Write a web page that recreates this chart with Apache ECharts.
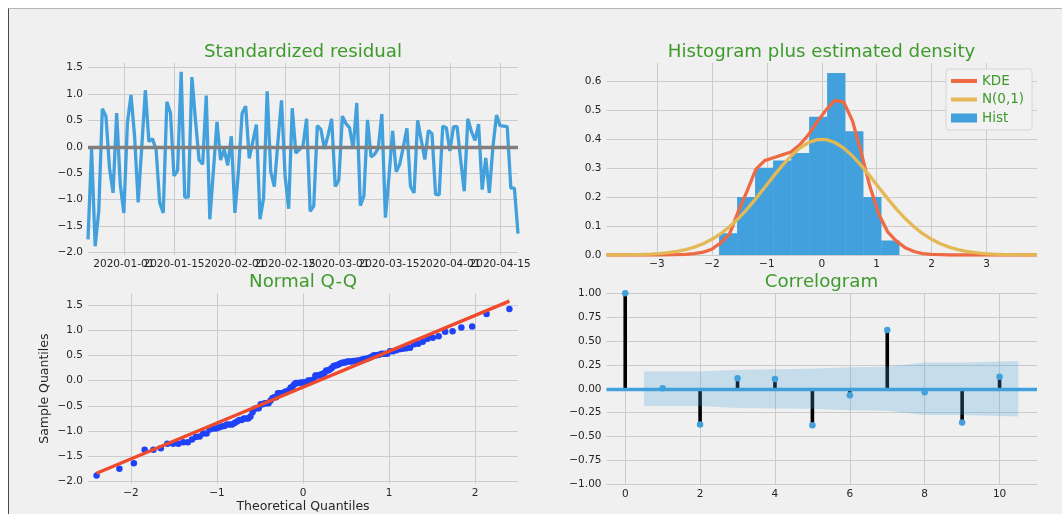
<!DOCTYPE html>
<html><head><meta charset="utf-8">
<script src="https://cdn.jsdelivr.net/npm/echarts@6.0.0/dist/echarts.min.js"></script>
<style>
html,body{margin:0;padding:0;background:#ffffff;width:1062px;height:514px;overflow:hidden}
#fig{position:absolute;left:8px;top:8px;right:0;bottom:0;background:#f0f0f0;border-left:1px solid #4a4a4a;border-top:1px solid #b4b4b4}
#chart{position:absolute;left:0;top:0;width:1062px;height:514px}
</style></head><body><div id="fig"></div><div id="chart"></div>
<script>
// ---------------- data ----------------
const startDate = '2019-12-22';
const dateTickLabelsA = ['2020-01-01','2020-02-01','2020-03-01','2020-04-01'];
const dateTickLabelsB = ['2020-01-15','2020-02-15','2020-03-15','2020-04-15'];
const resid = [
 -1.75,-0.04,-1.88,-1.22,0.72,0.58,-0.40,-0.87,0.64,-0.71,
 -1.25,0.45,0.98,0.20,-1.05,0.00,1.07,0.10,0.15,-0.05,
 -1.05,-1.25,0.85,0.65,-0.55,-0.45,1.42,-0.95,-0.95,1.32,
 0.50,-0.25,-0.33,0.97,-1.37,-0.45,0.47,-0.25,-0.05,-0.35,
 0.20,-1.25,-0.45,0.63,0.77,-0.22,0.10,0.42,-1.37,-0.97,
 1.05,-0.47,-0.75,0.10,0.88,-0.55,-1.17,0.73,-0.12,-0.05,
 0.02,0.53,-1.22,-1.12,0.40,0.33,-0.04,0.22,0.53,-0.75,
 -0.63,0.58,0.44,0.36,-0.04,0.83,-1.11,-0.93,0.51,-0.19,
 -0.14,-0.03,0.62,-1.34,-0.56,0.30,-0.47,-0.33,0.00,0.35,
 -0.75,-0.87,0.50,0.13,-0.24,0.31,0.25,-0.90,-0.91,0.39,
 0.36,-0.08,0.38,0.38,-0.25,-0.84,0.53,0.29,0.12,0.43,
 -0.81,-0.21,-0.87,0.00,0.60,0.40,0.39,0.38,-0.78,-0.78,
 -1.64
];
const histStart = -1.87, histBinWidth = 0.328;
const histDensity = [0.075,0.200,0.301,0.326,0.351,0.476,0.627,0.426,0.200,0.050];
const kdeStart = -3.92, kdeStep = 0.16;
const kdeValues = [
 0,0,0,0,0,0,0,0.0005,0.001,0.002,
 0.005,0.010,0.020,0.042,0.072,0.150,0.220,0.295,0.325,0.335,
 0.345,0.355,0.380,0.415,0.460,0.500,0.533,0.527,0.462,0.352,
 0.234,0.140,0.080,0.048,0.025,0.012,0.005,0.002,0.001,0,
 0,0,0,0,0,0,0,0,0,0
];
const acfLags = [0,1,2,3,4,5,6,7,8,9,10];
const acfValues = [1.0,0.005,-0.375,0.11,0.103,-0.382,-0.068,0.616,-0.037,-0.354,0.127];
const bandX = [0.5,2,3,4,5,6,7,8,9,10.5];
const bandHalfWidth = [0.18,0.18,0.2,0.205,0.21,0.225,0.23,0.275,0.275,0.29];

// ---------------- helpers ----------------
function addDays(s, k){ const d=new Date(s+'T00:00:00Z'); d.setUTCDate(d.getUTCDate()+k); return d.toISOString().slice(0,10); }
const dates = resid.map((_,i)=>addDays(startDate,i));
function mfmt(v,d){ const s=Math.abs(v).toFixed(d); return (v < -1e-9 ? '\u2212' : '') + s; }
function normInv(p){
 const a=[-3.969683028665376e+01,2.209460984245205e+02,-2.759285104469687e+02,1.383577518672690e+02,-3.066479806614716e+01,2.506628277459239e+00];
 const b=[-5.447609879822406e+01,1.615858368580409e+02,-1.556989798598866e+02,6.680131188771972e+01,-1.328068155288572e+01];
 const c=[-7.784894002430293e-03,-3.223964580411365e-01,-2.400758277161838e+00,-2.549732539343734e+00,4.374664141464968e+00,2.938163982698783e+00];
 const d=[7.784695709041462e-03,3.224671290700398e-01,2.445134137142996e+00,3.754408661907416e+00];
 const pl=0.02425, ph=1-pl; let q,r;
 if(p<pl){q=Math.sqrt(-2*Math.log(p));return (((((c[0]*q+c[1])*q+c[2])*q+c[3])*q+c[4])*q+c[5])/((((d[0]*q+d[1])*q+d[2])*q+d[3])*q+1);}
 if(p<=ph){q=p-0.5;r=q*q;return (((((a[0]*r+a[1])*r+a[2])*r+a[3])*r+a[4])*r+a[5])*q/(((((b[0]*r+b[1])*r+b[2])*r+b[3])*r+b[4])*r+1);}
 q=Math.sqrt(-2*Math.log(1-p));return -(((((c[0]*q+c[1])*q+c[2])*q+c[3])*q+c[4])*q+c[5])/((((d[0]*q+d[1])*q+d[2])*q+d[3])*q+1);
}
// Q-Q (sorted residuals vs normal quantiles), standardized reference line
const n = resid.length;
const sorted = resid.slice().sort((x,y)=>x-y);
const theo = sorted.map((_,i)=>normInv((i+1)/(n+1)));
const mean = sorted.reduce((s,v)=>s+v,0)/n;
const std = Math.sqrt(sorted.reduce((s,v)=>s+(v-mean)*(v-mean),0)/n);
const qqPoints = sorted.map((v,i)=>[theo[i], v]);
const qqLine = [[theo[0], mean+std*theo[0]], [theo[n-1], mean+std*theo[n-1]]];
// histogram + densities
const histData = histDensity.map((h,i)=>[histStart+i*histBinWidth, histStart+(i+1)*histBinWidth, h]);
const kdeData = kdeValues.map((v,i)=>[kdeStart+i*kdeStep, v]);
const normData = kdeValues.map((_,i)=>{const x=kdeStart+i*kdeStep; return [x, Math.exp(-x*x/2)/Math.sqrt(2*Math.PI)];});

// ---------------- style ----------------
const FONT='DejaVu Sans', TXT='#262626', GREEN='#3d9a2b', GRIDC='#cbcbcb';
const BLUE='#42a0dc', ORANGE='#ee6a45', YELLOW='#e3b855', QQBLUE='#1f42f8', QQRED='#ef4a2b';
const LW=3.3, TSIZE=18.2;
function lbl(d, hideEnds, extra){
  return Object.assign({fontFamily:FONT, fontSize:10.5, color:TXT, margin:5,
    showMinLabel: hideEnds?false:null, showMaxLabel: hideEnds?false:null,
    formatter: v=>mfmt(v,d)}, extra||{});
}
function split(hideEnds){ return {show:true, showMinLine: !hideEnds, showMaxLine: !hideEnds, lineStyle:{color:GRIDC, width:1}}; }
const noLine={show:false}, noTick={show:false};
const tickFnA = (idx, val) => dateTickLabelsA.indexOf(val) >= 0;
const tickFnB = (idx, val) => dateTickLabelsB.indexOf(val) >= 0;
const tickFnAll = (idx, val) => tickFnA(idx, val) || tickFnB(idx, val);
const lineIcon = 'path://M0,0H26V4H0Z';
const titleStyle = {color:GREEN, fontSize:TSIZE, fontWeight:'normal', fontFamily:FONT};

const option = {
  animation:false,
  backgroundColor:'transparent',
  textStyle:{fontFamily:FONT},
  title:[
    {text:'Standardized residual', left:303, top:43, textAlign:'center', padding:0, textStyle:titleStyle},
    {text:'Histogram plus estimated density', left:821.5, top:43, textAlign:'center', padding:0, textStyle:titleStyle},
    {text:'Normal Q-Q', left:303, top:273, textAlign:'center', padding:0, textStyle:titleStyle},
    {text:'Correlogram', left:821.5, top:273, textAlign:'center', padding:0, textStyle:titleStyle}
  ],
  legend:{
    orient:'vertical', left:946, top:69, itemWidth:26, itemHeight:9, itemGap:4.5,
    padding:[5,8,5,5], backgroundColor:'#f2f2f2', borderColor:'#d6d6d6', borderWidth:1, borderRadius:3,
    textStyle:{color:GREEN, fontSize:13.5, fontFamily:FONT},
    data:[{name:'KDE', icon:lineIcon, itemStyle:{color:ORANGE}},{name:'N(0,1)', icon:lineIcon, itemStyle:{color:YELLOW}},{name:'Hist', icon:'rect'}]
  },
  grid:[
    {left:88, top:63, width:430, height:192},
    {left:606.5, top:63, width:430.5, height:192},
    {left:88, top:293.3, width:430, height:191},
    {left:606.5, top:293.3, width:430.5, height:191}
  ],
  xAxis:[
    {gridIndex:0, type:'category', position:'bottom', data:dates, boundaryGap:false, axisLine:noLine, axisTick:noTick,
     axisLabel:{fontFamily:FONT, fontSize:10.5, color:TXT, margin:4, interval:tickFnA},
     splitLine:{show:true, interval:tickFnAll, lineStyle:{color:GRIDC, width:1}}},
    {gridIndex:1, type:'value', min:-3.92, max:3.92, minInterval:1, maxInterval:1, axisLine:noLine, axisTick:noTick,
     axisLabel:lbl(0,true,{margin:4}), splitLine:split(true)},
    {gridIndex:2, type:'value', min:-2.5, max:2.5, minInterval:1, maxInterval:1, axisLine:noLine, axisTick:noTick,
     axisLabel:lbl(0,true,{margin:4}), splitLine:split(true),
     name:'Theoretical Quantiles', nameLocation:'middle', nameGap:16, nameTextStyle:{fontFamily:FONT, fontSize:12.5, color:TXT}},
    {gridIndex:3, type:'value', min:-0.5, max:11, minInterval:2, maxInterval:2, axisLine:noLine, axisTick:noTick,
     axisLabel:lbl(0,true,{margin:4}), splitLine:split(true)},
    // second label row for the residual dates (mid-month ticks), drawn at the bottom edge
    {gridIndex:0, type:'category', position:'top', offset:-192, data:dates, boundaryGap:false, axisLine:noLine, axisTick:noTick,
     axisLabel:{inside:true, fontFamily:FONT, fontSize:10.5, color:TXT, margin:4, interval:tickFnB},
     splitLine:{show:false}}
  ],
  yAxis:[
    {gridIndex:0, type:'value', min:-2.045, max:1.585, minInterval:0.5, maxInterval:0.5, axisLine:noLine, axisTick:noTick,
     axisLabel:lbl(1,true), splitLine:split(true)},
    {gridIndex:1, type:'value', min:0, max:0.6615, interval:0.1, axisLine:noLine, axisTick:noTick,
     axisLabel:{fontFamily:FONT, fontSize:10.5, color:TXT, margin:5, showMaxLabel:false, formatter:v=>mfmt(v,1)},
     splitLine:{show:true, showMaxLine:false, lineStyle:{color:GRIDC, width:1}}},
    {gridIndex:2, type:'value', min:-2.05, max:1.73, minInterval:0.5, maxInterval:0.5, axisLine:noLine, axisTick:noTick,
     axisLabel:lbl(1,true), splitLine:split(true),
     name:'Sample Quantiles', nameLocation:'middle', nameGap:37, nameTextStyle:{fontFamily:FONT, fontSize:12.5, color:TXT}},
    {gridIndex:3, type:'value', min:-1, max:1, interval:0.25, axisLine:noLine, axisTick:noTick,
     axisLabel:{fontFamily:FONT, fontSize:10.5, color:TXT, margin:5, formatter:v=>mfmt(v,2)},
     splitLine:{show:true, lineStyle:{color:GRIDC, width:1}}}
  ],
  series:[
    // Standardized residual
    {name:'resid', type:'line', xAxisIndex:0, yAxisIndex:0, data:resid, symbol:'none', z:2,
     lineStyle:{color:BLUE, width:LW}, itemStyle:{color:BLUE},
     markLine:{silent:true, symbol:'none', z:3, label:{show:false}, lineStyle:{color:'#7f7f7f', width:LW, type:'solid'},
       emphasis:{disabled:true}, data:[{yAxis:0}]}},
    // Histogram
    {name:'Hist', type:'custom', xAxisIndex:1, yAxisIndex:1, data:histData, z:1,
     itemStyle:{color:BLUE}, encode:{x:[0,1], y:2},
     renderItem:function(params, api){
       const p0=api.coord([api.value(0), api.value(2)]);
       const p1=api.coord([api.value(1), 0]);
       return {type:'rect', shape:{x:p0[0], y:p0[1], width:p1[0]-p0[0]+0.3, height:p1[1]-p0[1]}, style:{fill:BLUE}};
     }},
    {name:'KDE', type:'line', xAxisIndex:1, yAxisIndex:1, data:kdeData, symbol:'none', z:3,
     lineStyle:{color:ORANGE, width:LW}, itemStyle:{color:ORANGE}},
    {name:'N(0,1)', type:'line', xAxisIndex:1, yAxisIndex:1, data:normData, symbol:'none', z:4,
     lineStyle:{color:YELLOW, width:LW}, itemStyle:{color:YELLOW}},
    // Normal Q-Q
    {name:'qq', type:'scatter', xAxisIndex:2, yAxisIndex:2, data:qqPoints, symbolSize:6.5, z:2,
     itemStyle:{color:QQBLUE, opacity:1}},
    {name:'qqline', type:'line', xAxisIndex:2, yAxisIndex:2, data:qqLine, symbol:'none', z:3,
     lineStyle:{color:QQRED, width:LW}},
    // Correlogram
    {name:'stems', type:'custom', xAxisIndex:3, yAxisIndex:3, z:2,
     data:acfLags.map((l,i)=>[l, acfValues[i]]), encode:{x:0, y:1},
     renderItem:function(params, api){
       const p0=api.coord([api.value(0), 0]);
       const p1=api.coord([api.value(0), api.value(1)]);
       return {type:'line', shape:{x1:p0[0], y1:p0[1], x2:p1[0], y2:p1[1]}, style:{stroke:'#000000', lineWidth:3.6}};
     },
     markLine:{silent:true, symbol:'none', z:3, label:{show:false}, lineStyle:{color:BLUE, width:LW, type:'solid'},
       emphasis:{disabled:true}, data:[{yAxis:0}]}},
    {name:'acf', type:'scatter', xAxisIndex:3, yAxisIndex:3, z:4, symbolSize:6.5,
     data:acfLags.map((l,i)=>[l, acfValues[i]]), itemStyle:{color:BLUE, opacity:1}},
    {name:'bandUp', type:'line', xAxisIndex:3, yAxisIndex:3, z:5, symbol:'none',
     data:bandX.map((x,i)=>[x, bandHalfWidth[i]]), lineStyle:{width:0, opacity:0},
     areaStyle:{color:BLUE, opacity:0.25, origin:0}},
    {name:'bandDown', type:'line', xAxisIndex:3, yAxisIndex:3, z:5, symbol:'none',
     data:bandX.map((x,i)=>[x, -bandHalfWidth[i]]), lineStyle:{width:0, opacity:0},
     areaStyle:{color:BLUE, opacity:0.25, origin:0}}
  ]
};
const chart = echarts.init(document.getElementById('chart'), null, {renderer:'canvas', width:1062, height:514});
chart.setOption(option);
</script></body></html>
